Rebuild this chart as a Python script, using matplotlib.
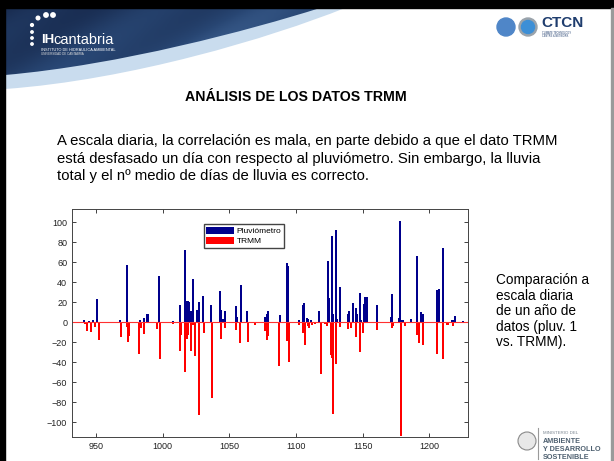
import numpy as np
import matplotlib
matplotlib.use("Agg")
import matplotlib.pyplot as plt
from matplotlib.path import Path
from matplotlib.patches import PathPatch, Circle, Rectangle

plt.rcParams['font.family'] = ['Liberation Sans', 'DejaVu Sans']

# daily rain (mm)
pluv_days = [941, 945, 948, 951, 968, 973, 983, 986, 988, 989, 997, 1008, 1013, 1017,
             1018, 1019, 1020, 1021, 1023, 1026, 1027, 1030, 1036, 1043, 1044, 1045,
             1046, 1047, 1055, 1056, 1059, 1063, 1077, 1078, 1079, 1088, 1093, 1094,
             1102, 1105, 1106, 1108, 1109, 1111, 1117, 1124, 1125, 1127, 1128, 1130,
             1131, 1133, 1139, 1140, 1143, 1145, 1146, 1148, 1149, 1151, 1152, 1153,
             1161, 1171, 1172, 1177, 1178, 1179, 1180, 1186, 1191, 1194, 1195, 1206,
             1207, 1210, 1217, 1218, 1219, 1225]
pluv_vals = [2, 1, 2, 23, 2, 57, 2, 4, 8, 8, 46, 1, 17, 72,
             21, 21, 20, 11, 43, 12, 20, 26, 17, 31, 12, 3,
             3, 11, 16, 5, 37, 11, 5, 8, 11, 7, 59, 56,
             2, 17, 19, 4, 3, 2, 11, 61, 24, 86, 8, 92,
             3, 35, 8, 11, 19, 14, 8, 29, 2, 18, 25, 25,
             17, 5, 28, 4, 101, 2, 2, 3, 66, 10, 8, 32,
             33, 74, 2, 2, 6, 1]

trmm_days = [942, 943, 946, 949, 952, 955, 957, 969, 973, 974, 975, 982, 984, 986,
             996, 998, 1008, 1013, 1014, 1017, 1018, 1019, 1021, 1023, 1024, 1027,
             1031, 1037, 1044, 1047, 1055, 1058, 1064, 1069, 1077, 1078, 1079, 1087,
             1093, 1095, 1102, 1105, 1107, 1109, 1110, 1112, 1114, 1119, 1122, 1123,
             1126, 1127, 1128, 1130, 1133, 1139, 1141, 1145, 1148, 1150, 1161, 1172,
             1173, 1179, 1182, 1191, 1192, 1195, 1206, 1210, 1213, 1214, 1218]
trmm_vals = [-2, -9, -10, -5, -18, -1, -1, -15, -5, -20, -14, -32, -6, -12,
             -7, -37, -2, -29, -13, -50, -17, -13, -29, -3, -34, -93,
             -11, -76, -17, -6, -8, -21, -20, -3, -9, -18, -14, -44,
             -19, -40, -3, -11, -23, -4, -6, -3, -2, -52, -2, -4,
             -33, -36, -92, -42, -5, -7, -6, -15, -30, -11, -8, -6,
             -4, -114, -4, -13, -21, -23, -32, -37, -3, -3, -4]

x_ticks = [950, 1000, 1050, 1100, 1150, 1200]
y_ticks = list(range(-100, 101, 20))

W, H = 614, 461
fig = plt.figure(figsize=(W / 100, H / 100), dpi=100)

# ---- slide background ----
bg = fig.add_axes([0, 0, 1, 1])
bg.set_xlim(0, W)
bg.set_ylim(H, 0)
bg.axis('off')

bg.add_patch(Rectangle((0, 0), W, 8, color='black', zorder=5))
bg.add_patch(Rectangle((0, 0), 5, H, color='black', zorder=5))
bg.add_patch(Rectangle((611, 8), 3, H, color='#9a9a9a', zorder=5))

# light band under the swoosh
light = Path([(5, 8), (345, 8), (270, 38), (130, 80), (5, 89), (5, 8)],
             [Path.MOVETO, Path.LINETO, Path.CURVE4, Path.CURVE4, Path.CURVE4,
              Path.CLOSEPOLY])
bg.add_patch(PathPatch(light, facecolor='#c9dcee', edgecolor='none', zorder=1))

# dark blue swoosh with gradient
dark = Path([(5, 8), (320, 8), (250, 30), (120, 65), (5, 75), (5, 8)],
            [Path.MOVETO, Path.LINETO, Path.CURVE4, Path.CURVE4, Path.CURVE4,
             Path.CLOSEPOLY])
dpatch = PathPatch(dark, facecolor='none', edgecolor='none', zorder=2)
bg.add_patch(dpatch)
gx = np.linspace(0, 1, 200)
gy = np.linspace(0, 1, 40)
GX, GY = np.meshgrid(gx, gy)
grad = 0.5 * GX + 0.3 * GY + 0.08 * np.sin(GX * 18 + GY * 6)
im = bg.imshow(grad, extent=[5, 340, 80, 8], cmap=matplotlib.colors.LinearSegmentedColormap.from_list(
    'sw', ['#182b4f', '#284673', '#4c73a6']), aspect='auto', zorder=2)
im.set_clip_path(dpatch)

# IH cantabria logo
for (cx, cy, r) in [(32, 25, 1.4), (38, 18, 1.8), (46, 15, 2.2), (53, 15, 2.2),
                    (32, 32, 1.2), (32, 38, 1.2), (32, 44, 1.2)]:
    bg.add_patch(Circle((cx, cy), r, color='white', zorder=6))
bg.text(41, 40, 'IH', color='white', fontsize=9.5, fontweight='bold', va='center', zorder=6)
bg.text(53, 40, 'cantabria', color='white', fontsize=10.5, va='center', zorder=6)
bg.text(41, 50, 'INSTITUTO DE HIDRÁULICA AMBIENTAL', color='white', fontsize=2.8,
        va='center', zorder=6)
bg.text(41, 54, 'UNIVERSIDAD DE CANTABRIA', color='#dddddd', fontsize=2.2,
        va='center', zorder=6)

# CTCN logos
bg.add_patch(Circle((506, 27), 9, color='#4f86c8', zorder=6))
bg.add_patch(Circle((528, 27), 9, color='#9aa3ab', zorder=6))
bg.add_patch(Circle((528, 27), 6.5, color='#3d8fd6', zorder=7))
bg.text(541, 23, 'CTCN', color='#1f3d6e', fontsize=11, fontweight='bold', va='center', zorder=6)
bg.text(542, 33, 'CLIMATE TECHNOLOGY', color='#1f3d6e', fontsize=1.8, va='center', zorder=6)
bg.text(542, 36, 'CENTRE & NETWORK', color='#1f3d6e', fontsize=1.8, va='center', zorder=6)

# ministry logo
bg.add_patch(Circle((527, 441), 9, facecolor='#e8e8e8', edgecolor='#8a8a8a', lw=0.8, zorder=6))
bg.plot([538, 538], [428, 459], color='#9a9a9a', lw=0.8, zorder=6)
bg.text(543, 433, 'MINISTERIO DEL', color='#7a8590', fontsize=3.2, va='center', zorder=6)
bg.text(543, 441, 'AMBIENTE', color='#4e6070', fontsize=5.2, fontweight='bold', va='center', zorder=6)
bg.text(543, 449, 'Y DESARROLLO', color='#4e6070', fontsize=5.2, fontweight='bold', va='center', zorder=6)
bg.text(543, 457, 'SOSTENIBLE', color='#4e6070', fontsize=5.2, fontweight='bold', va='center', zorder=6)

# slide text
bg.text(296, 97, 'ANÁLISIS DE LOS DATOS TRMM', fontsize=10.2, fontweight='bold',
        ha='center', va='center')
para = ['A escala diaria, la correlación es mala, en parte debido a que el dato TRMM',
        'está desfasado un día con respecto al pluviómetro. Sin embargo, la lluvia',
        'total y el nº medio de días de lluvia es correcto.']
for i, line in enumerate(para):
    bg.text(57, 141 + i * 17.5, line, fontsize=10.7, va='center')
side = ['Comparación a', 'escala diaria', 'de un año de', 'datos (pluv. 1', 'vs. TRMM).']
for i, line in enumerate(side):
    bg.text(496, 280 + i * 15.5, line, fontsize=9.8, va='center')

# ---- chart ----
ax = fig.add_axes([72 / W, 1 - 437 / H, 396 / W, 228 / H])
ax.bar(pluv_days, pluv_vals, width=1.3, color='#00008c', label='Pluviómetro')
ax.bar(trmm_days, trmm_vals, width=1.3, color='#ff0000', label='TRMM')
ax.axhline(0, color='#ff3030', lw=0.8)
ax.set_xlim(932, 1229)
ax.set_ylim(-115, 113)
ax.set_xticks(x_ticks)
ax.set_yticks(y_ticks)
ax.tick_params(direction='in', length=3, width=0.6, labelsize=6.5, colors='#222222',
               top=True, right=True)
for s in ax.spines.values():
    s.set_linewidth(0.7)
    s.set_color('#444444')
ax.legend(loc='upper left', bbox_to_anchor=((204 - 72) / 396, (437 - 224) / 228),
          borderaxespad=0, fontsize=6, fancybox=False, edgecolor='#444444',
          handlelength=3.3, handleheight=1.0, borderpad=0.3, labelspacing=0.2,
          handletextpad=0.3, framealpha=1)

fig.savefig('out.png', dpi=100)
